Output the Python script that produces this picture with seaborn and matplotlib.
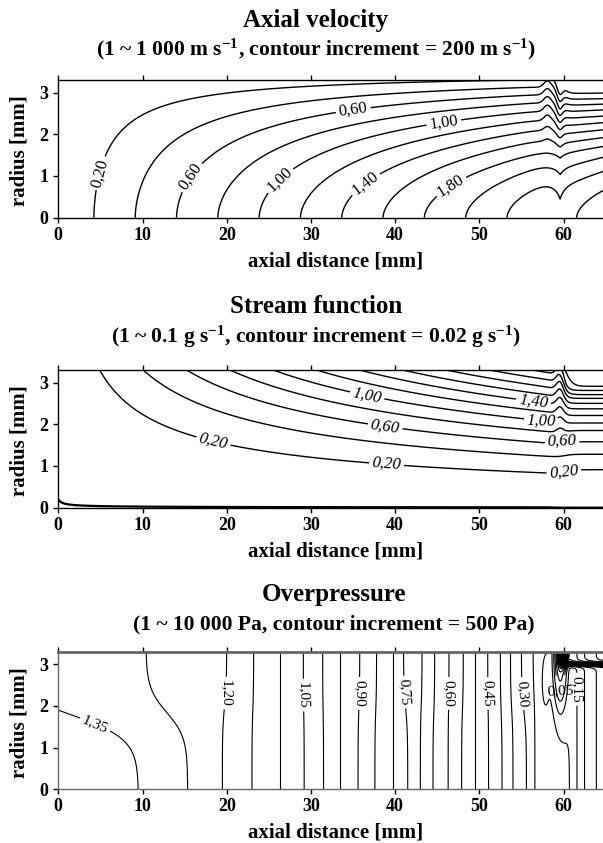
import numpy as np
import matplotlib
matplotlib.use("Agg")
import matplotlib.pyplot as plt
import seaborn as sns

# ---------------------------------------------------------------- data
x_ticks = [0, 10, 20, 30, 40, 50, 60]
r_ticks = [0, 1, 2, 3]

# Axial velocity: levels and where each level meets the axis (r = 0)
vel_levels = [0.2, 0.4, 0.6, 0.8, 1.0, 1.2, 1.4, 1.6, 1.8, 2.0, 2.2, 2.4]
vel_axis_x = [3.85, 9.23, 14.18, 19.13, 23.95, 28.8, 33.65, 38.6, 43.4, 48.3, 53.25, 61.6]
# off-axis points on the velocity contours (x, r, level)
vel_obs_x = [5.15, 16.0, 26.5, 36.6, 46.3, 35.0, 45.8, 22.8, 22.8, 22.8, 22.8, 40.0]
vel_obs_r = [1.06, 0.94, 0.86, 0.78, 0.86, 2.62, 2.27, 3.05, 2.62, 2.02, 1.26, 3.19]
vel_obs_lev = [0.2, 0.6, 1.0, 1.4, 1.8, 0.6, 1.0, 0.2, 0.4, 0.6, 0.8, 0.2]
vel_label_levels = [0.2, 0.6, 1.0, 1.4, 1.8]

# Stream function: levels, crossings of the outer boundary (r = 3.3)
sf_levels = [0.2, 0.4, 0.6, 0.8, 1.0, 1.2, 1.4, 1.6, 1.8, 2.0, 2.2]
sf_top_x = [5.2, 10.45, 15.7, 20.9, 26.2, 31.2, 36.2, 41.5, 46.7, 52.0, 56.6]
sf_obs_x = [18.4, 39.0, 38.8, 36.6, 57.4, 56.4]
sf_obs_r = [1.57, 1.08, 1.91, 2.61, 2.13, 2.51]
sf_obs_lev = [0.2, 0.2, 0.6, 1.0, 1.0, 1.4]
# radial positions of the streamlines downstream of x = 61
sf_down_levels = [0.2, 0.4, 0.6, 0.8, 1.0, 1.2, 1.4, 1.6, 1.8, 2.0, 2.2, 2.4]
sf_down_r = [0.91, 1.28, 1.58, 1.85, 2.03, 2.21, 2.37, 2.50, 2.62, 2.71, 2.81, 2.91]
sf_label_levels = [0.2, 0.6, 1.0, 1.4]

# Overpressure: isobar positions along the outer boundary and along the axis
op_top_lev = [1.33, 1.30, 1.20, 1.15, 1.10, 1.05, 1.00, 0.95, 0.90, 0.85, 0.80,
              0.75, 0.70, 0.65, 0.60, 0.55, 0.50, 0.45, 0.40, 0.35, 0.30, 0.25,
              0.20, 0.15, 0.10, 0.05, 0.02]
op_top_x = [0.0, 10.4, 20.0, 23.2, 26.3, 29.1, 31.4, 33.5, 35.8, 37.8, 39.7,
            41.0, 43.2, 44.7, 46.4, 48.1, 49.5, 51.0, 52.5, 53.7, 55.0, 56.4,
            60.7, 61.6, 62.5, 63.9, 65.0]
op_bot_lev = [1.37, 1.35, 1.30, 1.20, 1.15, 1.10, 1.05, 1.00, 0.95, 0.90, 0.85,
              0.80, 0.75, 0.70, 0.65, 0.60, 0.55, 0.50, 0.45, 0.40, 0.35, 0.30,
              0.25, 0.20, 0.15, 0.10, 0.05, 0.02]
op_bot_x = [0.0, 9.52, 15.37, 19.48, 23.0, 26.3, 29.2, 31.5, 33.5, 35.6, 37.6,
            39.7, 41.5, 43.0, 44.5, 46.3, 47.9, 49.5, 51.1, 52.7, 54.0, 55.6,
            56.6, 60.7, 61.6, 62.5, 63.9, 65.0]
op_label_levels = [0.05, 0.15, 0.30, 0.45, 0.60, 0.75, 0.90, 1.05, 1.20, 1.35]

titles = ["Axial velocity", "Stream function", "Overpressure"]
subtitles = [
    r"(1 ~ 1 000 m s$^{\mathbf{-1}}$, contour increment = 200 m s$^{\mathbf{-1}}$)",
    r"(1 ~ 0.1 g s$^{\mathbf{-1}}$, contour increment = 0.02 g s$^{\mathbf{-1}}$)",
    "(1 ~ 10 000 Pa, contour increment = 500 Pa)",
]

# ---------------------------------------------------------------- style
sns.set_theme(style="white")
plt.rcParams.update({
    "font.family": ["Liberation Serif", "DejaVu Serif"],
    "mathtext.fontset": "custom",
    "mathtext.rm": "Liberation Serif",
    "mathtext.it": "Liberation Serif:italic",
    "mathtext.bf": "Liberation Serif:bold",
    "text.color": "black",
    "axes.labelcolor": "black",
    "axes.edgecolor": "black",
    "axes.linewidth": 1.0,
    "xtick.color": "black",
    "ytick.color": "black",
})

W, H = 603, 843
X = np.linspace(0.0, 65.0, 1301)
R = np.linspace(0.0, 3.3, 331)
XX, RR = np.meshgrid(X, R)


def bump(x, c, w):
    return np.exp(-((x - c) / w) ** 2)


def step(x, c, w):
    return 1.0 / (1.0 + np.exp(-(x - c) / w))


def fmt(v):
    return f"{v:.2f}".replace(".", ",")


def rounded(vals):
    return sorted(round(float(v), 2) for v in vals)


# ---------------------------------------------------------------- fields
# axial velocity: centre-line value times a radial profile
slope, icpt = np.polyfit(vel_axis_x[:-1], vel_levels[:-1], 1)


def centreline(x):
    return (icpt + slope * x - 0.13 * np.exp(-np.abs(x - 59.6) / 0.9)
            - 0.14 * step(x, 59.6, 1.0))


phi_obs = np.array(vel_obs_lev) / (icpt + slope * np.array(vel_obs_x))
n_exp, c_log = np.polyfit(np.log(vel_obs_r), np.log(1.0 - phi_obs), 1,
                          w=np.array(vel_obs_r) ** 2)


def profile(r):
    return 1.0 - np.exp(c_log) * np.clip(r, 0.0, None) ** n_exp


# radial displacement of the outer contours around the step at x = 60
ramp = np.clip((RR - 1.5) / 1.1, 0.0, 1.0)
shift = ramp * (-0.15 * bump(XX, 58.1, 0.6) + 0.25 * bump(XX, 59.55, 0.45))
shift += 0.33 * np.clip((RR - 1.5) / 1.45, 0.0, 1.0) ** 1.3 * step(XX, 59.9, 0.35)
U = centreline(XX) * profile(RR + shift)

# stream function: power law upstream, fixed profile downstream
A = np.column_stack([
    np.ones(len(sf_top_x) + len(sf_obs_x)),
    np.log(np.r_[sf_top_x, sf_obs_x]),
    np.log(np.r_[np.full(len(sf_top_x), 3.3), sf_obs_r]),
])
coef = np.linalg.lstsq(A, np.log(np.r_[sf_levels, sf_obs_lev]), rcond=None)[0]
rb = RR - 0.25 * np.clip((RR - 1.2) / 1.8, 0, 1) * bump(XX, 59.6, 0.6)
psi_up = np.exp(coef[0]) * (XX + 0.28) ** coef[1] * np.clip(rb, 0, None) ** coef[2]
psi_down = np.interp(rb, np.r_[0.0, sf_down_r, 3.3], np.r_[0.0, sf_down_levels, 2.55])
wgt = step(XX, 60.1, 0.4)
PSI = (1 - wgt) * psi_up + wgt * psi_down

# overpressure: blend of boundary and axis distributions plus the disturbance near x = 60
p_top = np.interp(XX, op_top_x, op_top_lev)
p_bot = np.interp(XX, op_bot_x, op_bot_lev)
wr = step(RR, 1.9, 0.3)
P = (1 - wr) * p_bot + wr * p_top
P -= 0.30 * bump(XX, 59.6, 0.8) * bump(RR, 3.3, 1.2)
P -= 0.05 * bump(XX, 57.8, 0.6) * bump(RR, 2.6, 0.9)
P -= 2.0 * bump(XX, 60.0, 0.4) * bump(RR, 3.25, 0.2)
P -= 0.8 * step(RR, 3.0, 0.025) * step(XX, 60.4, 0.15)
op_all = [v for v in rounded(np.arange(-2.5, 1.36, 0.05)) if abs(v - 1.25) > 1e-6]

# ---------------------------------------------------------------- figure
fig = plt.figure(figsize=(W / 100, H / 100), dpi=100)

panel_tops = [80.0, 370.0, 651.7]
title_centres = [316, 316, 334]
title_base = [27.3, 313.0, 600.7]
sub_base = [55.5, 343.0, 629.0]
ax_h = 137.7
px_per_mm = 8.42


def make_axes(top, spine_color):
    ax = fig.add_axes([58.3 / W, (H - top - ax_h) / H, 65 * px_per_mm / W, ax_h / H])
    ax.set_facecolor("white")
    ax.set_xlim(0, 65)
    ax.set_ylim(0, 3.3)
    ax.set_xticks(x_ticks)
    ax.set_yticks(r_ticks)
    ax.tick_params(axis="x", direction="out", length=3.5, width=1.0, top=True,
                   bottom=True, labeltop=False, pad=3, labelsize=13)
    ax.tick_params(axis="y", direction="out", length=3.5, width=1.0, left=True,
                   right=False, pad=3.5, labelsize=13)
    for lab in ax.get_xticklabels() + ax.get_yticklabels():
        lab.set_fontweight("bold")
    for side in ["left", "top", "bottom"]:
        ax.spines[side].set_color(spine_color)
    sns.despine(ax=ax, right=True, top=False)
    ax.set_xlabel("axial distance [mm]", fontsize=15, fontweight="bold", va="center")
    ax.xaxis.set_label_coords((335.6 - 58.3) / (65 * px_per_mm), -43.5 / ax_h)
    ax.set_ylabel("radius [mm]", fontsize=15, fontweight="bold", va="center", ha="center")
    ax.yaxis.set_label_coords((20 - 58.3) / (65 * px_per_mm), 0.484)
    return ax


def draw(ax, field, all_levels, label_levels, lw, spots, size, style="normal"):
    label_levels = rounded(label_levels)
    plain = [v for v in rounded(all_levels) if v not in label_levels]
    ax.contour(XX, RR, field, levels=plain, colors="black", linewidths=lw,
               linestyles="solid")
    cs = ax.contour(XX, RR, field, levels=label_levels, colors="black",
                    linewidths=lw, linestyles="solid")
    texts = ax.clabel(cs, fmt=fmt, fontsize=size, inline=True, inline_spacing=3,
                      manual=spots)
    for t in texts:
        t.set_fontstyle(style)
    return texts


axes = [make_axes(panel_tops[0], "black"),
        make_axes(panel_tops[1], "black"),
        make_axes(panel_tops[2], "#666666")]
axes[2].spines["top"].set_linewidth(2.0)

for i in range(3):
    fig.text(title_centres[i] / W, 1 - title_base[i] / H, titles[i], ha="center",
             va="baseline", fontsize=18, fontweight="bold")
    fig.text(title_centres[i] / W, 1 - sub_base[i] / H, subtitles[i], ha="center",
             va="baseline", fontsize=15.5, fontweight="bold")

# axial velocity
draw(axes[0], U, np.arange(0.2, 3.01, 0.2), vel_label_levels, 1.0,
     [(5.15, 1.06), (16.0, 0.94), (26.5, 0.86), (36.6, 0.78), (46.3, 0.86),
      (35.0, 2.62), (45.8, 2.27)], 12)

# stream function
axes[1].contour(XX, RR, PSI, levels=[0.00008], colors="black", linewidths=1.6,
                linestyles="solid")
draw(axes[1], PSI, np.arange(0.2, 2.41, 0.2), sf_label_levels, 1.0,
     [(18.4, 1.57), (39.0, 1.08), (60.0, 0.90), (38.8, 1.91), (59.8, 1.57),
      (36.6, 2.61), (57.4, 2.13), (56.4, 2.51)], 12, "italic")

# overpressure
t3 = draw(axes[2], P, op_all, op_label_levels, 0.8,
          [(4.5, 1.62), (20.5, 2.3), (29.4, 2.26), (36.0, 2.3), (41.7, 2.34),
           (46.5, 2.3), (51.1, 2.3), (55.3, 2.3), (61.4, 2.4), (59.7, 2.3)], 11)
for t in t3:
    rot = t.get_rotation() % 360
    if 60 < rot < 120:
        t.set_rotation(270)

fig.savefig("out.png", dpi=100)
